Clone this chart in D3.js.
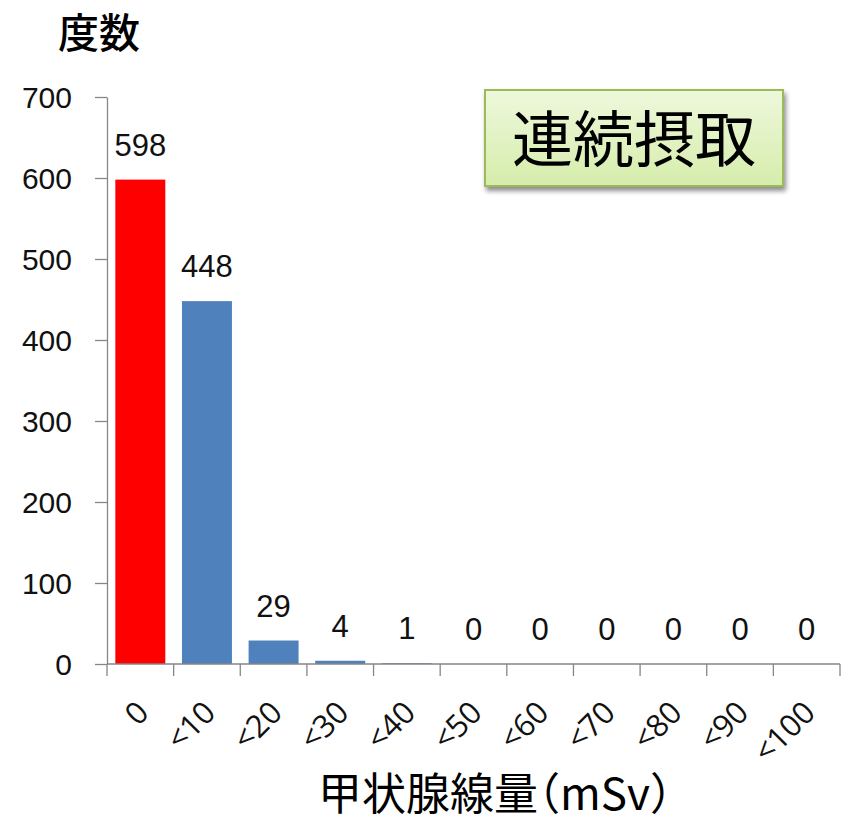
<!DOCTYPE html>
<html><head><meta charset="utf-8">
<script src="https://cdn.jsdelivr.net/npm/d3@7"></script>
<style>body{margin:0;background:#fff}</style>
</head><body>
<svg id="c" width="846" height="823"></svg>
<script>
const categories = ["0","<10","<20","<30","<40","<50","<60","<70","<80","<90","<100"];
const values = [598,448,29,4,1,0,0,0,0,0,0];
const barColors = ["#ff0000","#4f81bd","#4f81bd","#4f81bd","#4f81bd","#4f81bd","#4f81bd","#4f81bd","#4f81bd","#4f81bd","#4f81bd"];
const yTicks = [0,100,200,300,400,500,600,700];
const yTitle = "度数";
const xTitle = "甲状腺線量（mSv）";
const boxText = "連続摂取";

(function(){
const svg = d3.select("#c");
const mLeft = 107, mRight = 840, mTop = 97, mBottom = 664;
const x = d3.scaleBand().domain(categories).range([mLeft, mRight]).paddingInner(0.25).paddingOuter(0.125);
const y = d3.scaleLinear().domain([0,700]).range([mBottom, mTop]);
const axisColor = "#868686";
const latin = "'Liberation Sans', Arial, sans-serif";
const cjk = "'Noto Sans CJK JP', sans-serif";

const defs = svg.append("defs");
const g1 = defs.append("linearGradient").attr("id","gb").attr("x1",0).attr("y1",0).attr("x2",0).attr("y2",1);
g1.append("stop").attr("offset","0%").attr("stop-color","#eef8dc");
g1.append("stop").attr("offset","100%").attr("stop-color","#d6edab");
const f = defs.append("filter").attr("id","sh").attr("x","-10%").attr("y","-10%").attr("width","130%").attr("height","140%");
f.append("feGaussianBlur").attr("in","SourceAlpha").attr("stdDeviation",2.5);
f.append("feOffset").attr("dx",2).attr("dy",4).attr("result","b");
f.append("feComponentTransfer").append("feFuncA").attr("type","linear").attr("slope",0.45);
const m = f.append("feMerge"); m.append("feMergeNode"); m.append("feMergeNode").attr("in","SourceGraphic");

svg.append("g").selectAll("rect").data(values).join("rect")
  .attr("x",(d,i)=>x(categories[i]))
  .attr("width",x.bandwidth())
  .attr("y",d=>y(d))
  .attr("height",d=>mBottom-y(d))
  .attr("fill",(d,i)=>barColors[i]);

const ya = svg.append("g").attr("transform",`translate(${mLeft},0)`)
  .call(d3.axisLeft(y).tickValues(yTicks).tickSize(12).tickPadding(23).tickSizeOuter(0));
ya.select(".domain").attr("stroke",axisColor).attr("stroke-width",1.3);
ya.selectAll(".tick line").attr("stroke",axisColor).attr("stroke-width",1.3);
ya.selectAll(".tick text").attr("font-family",latin).attr("font-size",30).attr("fill","#111").attr("dy","0.36em");
svg.append("line").attr("x1",mLeft).attr("x2",mLeft).attr("y1",mBottom).attr("y2",mBottom+12).attr("stroke",axisColor).attr("stroke-width",1.3);

svg.append("line").attr("x1",mLeft).attr("x2",mRight).attr("y1",mBottom).attr("y2",mBottom).attr("stroke",axisColor).attr("stroke-width",1.3);
const step = x.step();
svg.append("g").selectAll("line").data(categories).join("line")
  .attr("x1",(d)=>x(d)-x.paddingOuter()*step+step)
  .attr("x2",(d)=>x(d)-x.paddingOuter()*step+step)
  .attr("y1",mBottom).attr("y2",mBottom+12)
  .attr("stroke",axisColor).attr("stroke-width",1.3);

svg.append("g").selectAll("text").data(categories).join("text")
  .attr("transform",d=>`translate(${x(d)+x.bandwidth()/2-5},${mBottom+35}) rotate(-45)`)
  .attr("text-anchor","end").attr("dy","0.7em")
  .attr("font-family","'Open Sans', sans-serif").attr("font-size",31).attr("fill","#111")
  .text(d=>d);

svg.append("g").selectAll("text").data(values).join("text")
  .attr("x",(d,i)=>x(categories[i])+x.bandwidth()/2)
  .attr("y",d=>y(d)-24)
  .attr("text-anchor","middle")
  .attr("font-family",latin).attr("font-size",31).attr("fill","#111")
  .text(d=>d);

svg.append("text").attr("x",99).attr("y",47.5).attr("text-anchor","middle")
  .attr("font-family",cjk).attr("font-weight",500).attr("font-size",41).attr("fill","#000").text(yTitle);
svg.append("text").attr("x",495).attr("y",810).attr("text-anchor","middle")
  .style("font-feature-settings","'halt'")
  .attr("font-family",cjk).attr("font-weight",400).attr("font-size",44).attr("fill","#000").text(xTitle);

svg.append("rect").attr("x",485).attr("y",90).attr("width",298).attr("height",96)
  .attr("fill","url(#gb)").attr("stroke","#9bbb59").attr("stroke-width",2).attr("filter","url(#sh)");
svg.append("text").attr("x",634).attr("y",162).attr("text-anchor","middle")
  .attr("font-family",cjk).attr("font-size",61).attr("fill","#000").text(boxText);
})();
</script>
</body></html>
